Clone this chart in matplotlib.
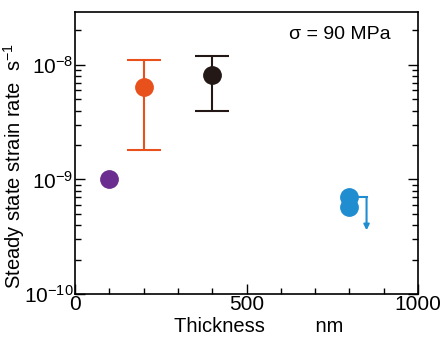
import matplotlib
matplotlib.use("Agg")
import matplotlib.pyplot as plt
from matplotlib.ticker import LogLocator, FixedLocator, NullFormatter

plt.rcParams['font.family'] = ['Liberation Sans', 'DejaVu Sans']
plt.rcParams['mathtext.fontset'] = 'custom'
plt.rcParams['mathtext.rm'] = 'Liberation Sans'
plt.rcParams['mathtext.it'] = 'Liberation Sans:italic'

# Data
thickness = [100, 200, 400]
rate = [1.0e-9, 6.4e-9, 8.2e-9]
err_low = [None, 1.8e-9, 4.0e-9]
err_high = [None, 1.1e-8, 1.2e-8]
colors = ['#6b2d8f', '#e8501c', '#231815']

blue_x = [800, 800]
blue_y = [7.1e-10, 5.8e-10]
blue_color = '#1f8dd0'
arrow_x = 850
arrow_y_start = 7.0e-10
arrow_y_end = 3.6e-10

fig = plt.figure(figsize=(4.41, 3.38), dpi=100)
ax = fig.add_axes([75/441, 1-294/338, (418-75)/441, (294-12)/338])

for x, y, lo, hi, c in zip(thickness, rate, err_low, err_high, colors):
    if lo is not None:
        ax.errorbar([x], [y], yerr=[[y-lo], [hi-y]], fmt='none', ecolor=c,
                    elinewidth=1.5, capsize=12, capthick=1.5, zorder=2)
    ax.plot([x], [y], 'o', color=c, markersize=12.5, zorder=3)

ax.plot(blue_x, blue_y, 'o', color=blue_color, markersize=12.5, zorder=3)
ax.plot([blue_x[0], arrow_x], [arrow_y_start, arrow_y_start], color=blue_color, lw=1.5)
ax.annotate('', xy=(arrow_x, arrow_y_end), xytext=(arrow_x, arrow_y_start),
            arrowprops=dict(arrowstyle='-|>', color=blue_color, lw=1.5,
                            mutation_scale=8, shrinkA=0, shrinkB=0))

ax.set_yscale('log')
ax.set_xlim(0, 1000)
ax.set_ylim(1e-10, 2.9e-8)
ax.xaxis.set_major_locator(FixedLocator([0, 500, 1000]))
ax.xaxis.set_minor_locator(FixedLocator(list(range(100, 1000, 100))))
ax.yaxis.set_major_locator(LogLocator(base=10, numticks=10))
ax.yaxis.set_minor_locator(LogLocator(base=10, subs=range(2, 10), numticks=10))
ax.yaxis.set_minor_formatter(NullFormatter())

ax.tick_params(which='both', direction='in', left=True, right=True, top=False,
               labelsize=15, width=1, pad=1)
ax.tick_params(which='major', length=7)
ax.tick_params(which='minor', length=4)
for s in ax.spines.values():
    s.set_linewidth(1.2)

ax.set_xlabel('Thickness         nm', fontsize=14.5)
ax.xaxis.set_label_coords(0.535, -0.083)
ax.set_ylabel('Steady state strain rate  s$^{-1}$', fontsize=14.5)
ax.yaxis.set_label_coords(-0.14, 0.455)
ax.text(0.92, 0.92, '\u03c3 = 90 MPa', transform=ax.transAxes, ha='right',
        va='center', fontsize=14)

fig.savefig('out.png', dpi=100)
